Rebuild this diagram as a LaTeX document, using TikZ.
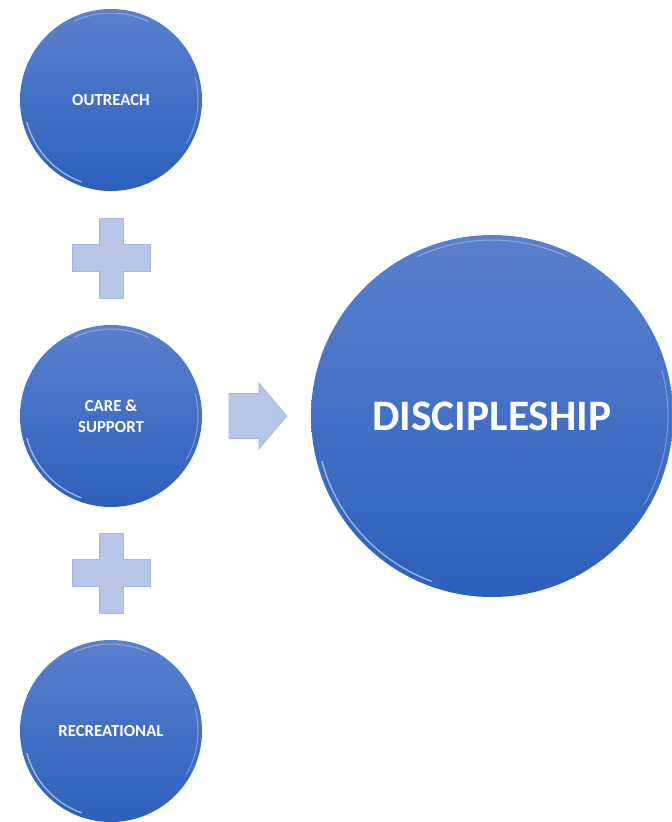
\documentclass[tikz,border=0pt]{standalone}
\usepackage{fontspec}
\setmainfont{Carlito}

\begin{document}
\begin{tikzpicture}[x=1pt,y=1pt,
    ball/.style={circle,inner sep=0pt,minimum size=182pt,top color=ballTop,bottom color=ballBottom,
      text=white,align=center,font=\bfseries\fontsize{16.8}{21}\selectfont},
    bigball/.style={ball,minimum size=362pt,font=\bfseries\fontsize{43.5}{50}\selectfont},
    gleam/.style={white,line cap=round,opacity=0.5,line width=1.4pt},
    plussign/.style={fill=plusFill,draw=plusEdge,line width=0.6pt,line join=miter}]
  \definecolor{ballTop}{HTML}{5B80CC}
  \definecolor{ballBottom}{HTML}{2C60BD}
  \definecolor{plusFill}{HTML}{B7C5E7}
  \definecolor{plusEdge}{HTML}{A6B7DE}
  \useasboundingbox (0,0) rectangle (672,-822);

  % the three inputs
  \node[ball] (outreach) at (111,-100) {OUTREACH};
  \node[ball] (care) at (111,-416) {CARE \&\\SUPPORT};
  \node[ball] (recre) at (111,-731) {RECREATIONAL};
  % result
  \node[bigball] (disc) at (492,-416) {DISCIPLESHIP};

  % glassy rims
  \foreach \b/\r in {outreach/87,care/87,recre/87,disc/176}{
    \draw[gleam] ([shift={(195:\r)}]\b.center) arc[start angle=195,end angle=250,radius=\r];
    \draw[gleam,opacity=0.3,line width=1pt] ([shift={(65:\r)}]\b.center) arc[start angle=65,end angle=115,radius=\r];
    \draw[gleam,opacity=0.3,line width=1pt] ([shift={(-30:\r)}]\b.center) arc[start angle=-30,end angle=15,radius=\r];
  }

  % plus signs
  \foreach \y in {-258,-573}
    \draw[plussign] (111,\y) +(-12,40) -- +(12,40) -- +(12,13.5) -- +(39,13.5) -- +(39,-13.5)
      -- +(12,-13.5) -- +(12,-40) -- +(-12,-40) -- +(-12,-13.5) -- +(-39,-13.5) -- +(-39,13.5)
      -- +(-12,13.5) -- cycle;

  % arrow to the result
  \draw[plussign] (229,-393.5) -- (259,-393.5) -- (259,-383) -- (287,-416) -- (259,-449)
    -- (259,-438.5) -- (229,-438.5) -- cycle;
\end{tikzpicture}
\end{document}
